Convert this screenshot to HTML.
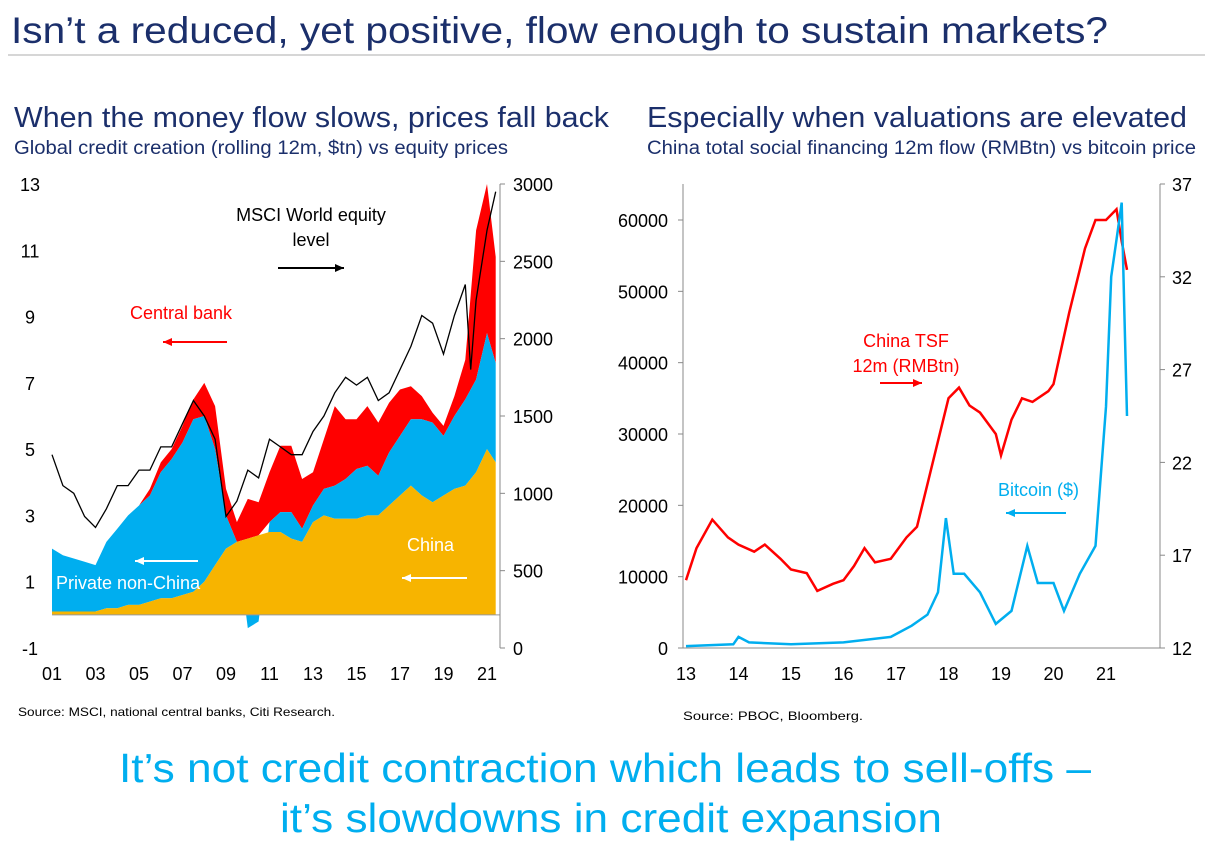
<!DOCTYPE html>
<html><head><meta charset="utf-8"><style>
body{margin:0;background:#fff;}
svg{display:block;font-family:"Liberation Sans",Arial,sans-serif;}
</style></head><body>
<svg id="s" width="1210" height="846" viewBox="0 0 1210 846" xmlns="http://www.w3.org/2000/svg">
<text x="11" y="43" font-size="37" fill="#1b2f6b" textLength="1097" lengthAdjust="spacingAndGlyphs">Isn’t a reduced, yet positive, flow enough to sustain markets?</text>
<line x1="8" y1="55" x2="1205" y2="55" stroke="#c8c8c8" stroke-width="1.5"/>
<text x="14" y="127" font-size="29" fill="#1b2f6b" textLength="595" lengthAdjust="spacingAndGlyphs">When the money flow slows, prices fall back</text>
<text x="14" y="154" font-size="19" fill="#1b2f6b" textLength="494" lengthAdjust="spacingAndGlyphs">Global credit creation (rolling 12m, $tn) vs equity prices</text>
<text x="647" y="127" font-size="29" fill="#1b2f6b" textLength="540" lengthAdjust="spacingAndGlyphs">Especially when valuations are elevated</text>
<text x="647" y="154" font-size="19" fill="#1b2f6b" textLength="549" lengthAdjust="spacingAndGlyphs">China total social financing 12m flow (RMBtn) vs bitcoin price</text>
<g id="left"></g>
<g id="right"></g>
<text x="18" y="716" font-size="12" fill="#000" textLength="317" lengthAdjust="spacingAndGlyphs">Source: MSCI, national central banks, Citi Research.</text>
<text x="683" y="720" font-size="12" fill="#000" textLength="180" lengthAdjust="spacingAndGlyphs">Source: PBOC, Bloomberg.</text>
<text x="605" y="782" font-size="41" fill="#00aeef" text-anchor="middle" textLength="972" lengthAdjust="spacingAndGlyphs">It’s not credit contraction which leads to sell-offs –</text>
<text x="611" y="832" font-size="41" fill="#00aeef" text-anchor="middle" textLength="662" lengthAdjust="spacingAndGlyphs">it’s slowdowns in credit expansion</text>
</svg>
<script>
// Left chart data (half-yearly)
const leftYears=[2001,2001.5,2002,2002.5,2003,2003.5,2004,2004.5,2005,2005.5,2006,2006.5,2007,2007.5,2008,2008.5,2009,2009.5,2010,2010.5,2011,2011.5,2012,2012.5,2013,2013.5,2014,2014.5,2015,2015.5,2016,2016.5,2017,2017.5,2018,2018.5,2019,2019.5,2020,2020.5,2021,2021.4];
const chinaFlow=[0.1,0.1,0.1,0.1,0.1,0.2,0.2,0.3,0.3,0.4,0.5,0.5,0.6,0.7,1.0,1.5,2.0,2.2,2.3,2.4,2.5,2.5,2.3,2.2,2.8,3.0,2.9,2.9,2.9,3.0,3.0,3.3,3.6,3.9,3.6,3.4,3.6,3.8,3.9,4.3,5.0,4.6];
const privateFlow=[1.9,1.7,1.6,1.5,1.4,2.0,2.4,2.7,3.0,3.2,3.8,4.2,4.6,5.2,5.0,3.5,1.0,0.0,-0.4,-0.2,0.3,0.6,0.8,0.4,0.5,0.8,1.0,1.2,1.5,1.5,1.2,1.6,1.8,2.0,2.3,2.4,1.8,2.2,2.6,2.8,3.5,3.0];
const centralBankFlow=[0,0,0,0,0,0,0,0,0,0.2,0.3,0.3,0.5,0.6,1.0,1.3,0.8,0.6,1.2,1.0,1.5,2.0,2.0,1.5,1.0,1.5,2.4,1.8,1.5,1.8,1.6,1.5,1.4,1.0,0.7,0.3,0.3,0.6,1.2,4.5,4.5,3.2];
const msciYears=[2001,2001.5,2002,2002.5,2003,2003.5,2004,2004.5,2005,2005.5,2006,2006.5,2007,2007.5,2008,2008.5,2009,2009.5,2010,2010.5,2011,2011.5,2012,2012.5,2013,2013.5,2014,2014.5,2015,2015.5,2016,2016.5,2017,2017.5,2018,2018.5,2019,2019.5,2020,2020.25,2020.5,2021,2021.4];
const msciLevel=[1250,1050,1000,850,780,900,1050,1050,1150,1150,1300,1300,1450,1600,1500,1350,850,950,1150,1100,1350,1300,1250,1250,1400,1500,1650,1750,1700,1750,1600,1650,1800,1950,2150,2100,1900,2150,2350,1800,2250,2700,2950];
const leftTicks=[13,11,9,7,5,3,1,-1];
const leftRightTicks=[3000,2500,2000,1500,1000,500,0];
const leftXTicks=["01","03","05","07","09","11","13","15","17","19","21"];
// Right chart data
const tsfYears=[2013,2013.2,2013.5,2013.8,2014,2014.3,2014.5,2014.8,2015,2015.3,2015.5,2015.8,2016,2016.2,2016.4,2016.6,2016.9,2017.2,2017.4,2017.6,2017.8,2018,2018.2,2018.4,2018.6,2018.9,2019,2019.2,2019.4,2019.6,2019.9,2020,2020.3,2020.6,2020.8,2021,2021.2,2021.3,2021.4];
const tsfValues=[9500,14000,18000,15500,14500,13500,14500,12500,11000,10500,8000,9000,9500,11500,14000,12000,12500,15500,17000,23000,29000,35000,36500,34000,33000,30000,27000,32000,35000,34500,36000,37000,47000,56000,60000,60000,61500,57000,53000];
const btcYears=[2013,2013.9,2014,2014.2,2015,2016,2016.9,2017.3,2017.6,2017.8,2017.95,2018.1,2018.3,2018.6,2018.9,2019.2,2019.5,2019.7,2020,2020.2,2020.5,2020.8,2021,2021.1,2021.2,2021.3,2021.35,2021.4];
const btcValues=[12.1,12.2,12.6,12.3,12.2,12.3,12.6,13.2,13.8,15,19,16,16,15,13.3,14,17.5,15.5,15.5,14,16,17.5,25,32,34,36,30,24.5];
const rightLeftTicks=[60000,50000,40000,30000,20000,10000,0];
const rightRightTicks=[37,32,27,22,17,12];
const rightXTicks=[13,14,15,16,17,18,19,20,21];

const NS="http://www.w3.org/2000/svg";
function mk(parent,tag,attrs,txt){const e=document.createElementNS(NS,tag);for(const k in attrs)e.setAttribute(k,attrs[k]);if(txt!==undefined)e.textContent=txt;parent.appendChild(e);return e;}

// LEFT
const L=document.getElementById('left');
const lx=y=>52+(y-2001)*21.75;
const ly=v=>648-(v+1)*33.143;
const lr=v=>648-v*464/3000;
function areaPath(lower,upper){let d='';leftYears.forEach((t,i)=>{d+=(i?'L':'M')+lx(t).toFixed(1)+','+ly(upper[i]).toFixed(1);});for(let i=leftYears.length-1;i>=0;i--)d+='L'+lx(leftYears[i]).toFixed(1)+','+ly(lower[i]).toFixed(1);return d+'Z';}
const zero=leftYears.map(()=>0);
const privLo=leftYears.map((t,i)=>privateFlow[i]>=0?chinaFlow[i]:privateFlow[i]);
const privHi=leftYears.map((t,i)=>privateFlow[i]>=0?chinaFlow[i]+privateFlow[i]:0);
const cbLo=leftYears.map((t,i)=>chinaFlow[i]+Math.max(privateFlow[i],0));
const cbHi=leftYears.map((t,i)=>cbLo[i]+centralBankFlow[i]);
let p=mk(L,'path',{d:areaPath(cbLo,cbHi),fill:'#ff0000'});


p=mk(L,'path',{d:areaPath(privLo,privHi),fill:'#00aeef'});


p=mk(L,'path',{d:areaPath(zero,chinaFlow),fill:'#f7b400'});


p=mk(L,'line',{x1:52,x2:500,y1:ly(0),y2:ly(0),stroke:'#999','stroke-width':1});


let d='';msciYears.forEach((t,i)=>{d+=(i?'L':'M')+lx(t).toFixed(1)+','+lr(msciLevel[i]).toFixed(1);});
p=mk(L,'path',{d:d,fill:'none',stroke:'#000','stroke-width':1.3});


p=mk(L,'line',{x1:500,x2:500,y1:184,y2:648,stroke:'#888'});


leftTicks.forEach(v=>{const t=mk(L,'text',{x:30,y:ly(v)+7,'font-size':18,'text-anchor':'middle'},String(v));

});
leftRightTicks.forEach(v=>{const t=mk(L,'text',{x:513,y:lr(v)+7,'font-size':18},String(v));


mk(L,'line',{x1:500,x2:505,y1:lr(v),y2:lr(v),stroke:'#888'});});
leftXTicks.forEach((s,i)=>{const t=mk(L,'text',{x:lx(2001+2*i),y:680,'font-size':18,'text-anchor':'middle'},s);

});
function arrow(g,x1,x2,y,c,name){const gg=mk(g,'g',{});


mk(gg,'line',{x1:x1,x2:x2,y1:y,y2:y,stroke:c,'stroke-width':2});const dir=x2>x1?1:-1;
mk(gg,'path',{d:`M${x2},${y}L${x2-dir*9},${y-4}L${x2-dir*9},${y+4}Z`,fill:c});}
let t=mk(L,'text',{x:311,y:221,'font-size':18,'text-anchor':'middle'},'MSCI World equity');


t=mk(L,'text',{x:311,y:246,'font-size':18,'text-anchor':'middle'},'level');


arrow(L,278,344,268,'#000','msci-arrow');
t=mk(L,'text',{x:130,y:319,'font-size':18,fill:'#ff0000'},'Central bank');


arrow(L,227,163,342,'#ff0000','central-bank-arrow');
t=mk(L,'text',{x:56,y:589,'font-size':18,fill:'#fff'},'Private non-China');


arrow(L,198,135,561,'#fff','private-arrow');
t=mk(L,'text',{x:407,y:551,'font-size':18,fill:'#fff'},'China');


arrow(L,467,402,578,'#fff','china-arrow');

// RIGHT
const R=document.getElementById('right');
const rx=y=>686+(y-2013)*52.5;
const ryl=v=>648-v*428/60000;
const ryr=v=>648-(v-12)*464/25;
p=mk(R,'path',{d:'M683,184L683,648L1160,648L1160,184',fill:'none',stroke:'#888'});


d='';tsfYears.forEach((y,i)=>{d+=(i?'L':'M')+rx(y).toFixed(1)+','+ryl(tsfValues[i]).toFixed(1);});
p=mk(R,'path',{d:d,fill:'none',stroke:'#ff0000','stroke-width':2.5});


d='';btcYears.forEach((y,i)=>{d+=(i?'L':'M')+rx(y).toFixed(1)+','+ryr(btcValues[i]).toFixed(1);});
p=mk(R,'path',{d:d,fill:'none',stroke:'#00aeef','stroke-width':2.5});


rightLeftTicks.forEach(v=>{const t=mk(R,'text',{x:668,y:ryl(v)+7,'font-size':18,'text-anchor':'end'},String(v));


mk(R,'line',{x1:678,x2:683,y1:ryl(v),y2:ryl(v),stroke:'#888'});});
rightRightTicks.forEach(v=>{const t=mk(R,'text',{x:1182,y:ryr(v)+7,'font-size':18,'text-anchor':'middle'},String(v));


mk(R,'line',{x1:1160,x2:1165,y1:ryr(v),y2:ryr(v),stroke:'#888'});});
rightXTicks.forEach(v=>{const t=mk(R,'text',{x:rx(2000+v),y:680,'font-size':18,'text-anchor':'middle'},String(v));

});
t=mk(R,'text',{x:906,y:347,'font-size':18,fill:'#ff0000','text-anchor':'middle'},'China TSF');


t=mk(R,'text',{x:906,y:372,'font-size':18,fill:'#ff0000','text-anchor':'middle'},'12m (RMBtn)');


arrow(R,880,922,383,'#ff0000','tsf-arrow');
t=mk(R,'text',{x:998,y:496,'font-size':18,fill:'#00aeef'},'Bitcoin ($)');


arrow(R,1066,1006,513,'#00aeef','bitcoin-arrow');
</script>
</body></html>
